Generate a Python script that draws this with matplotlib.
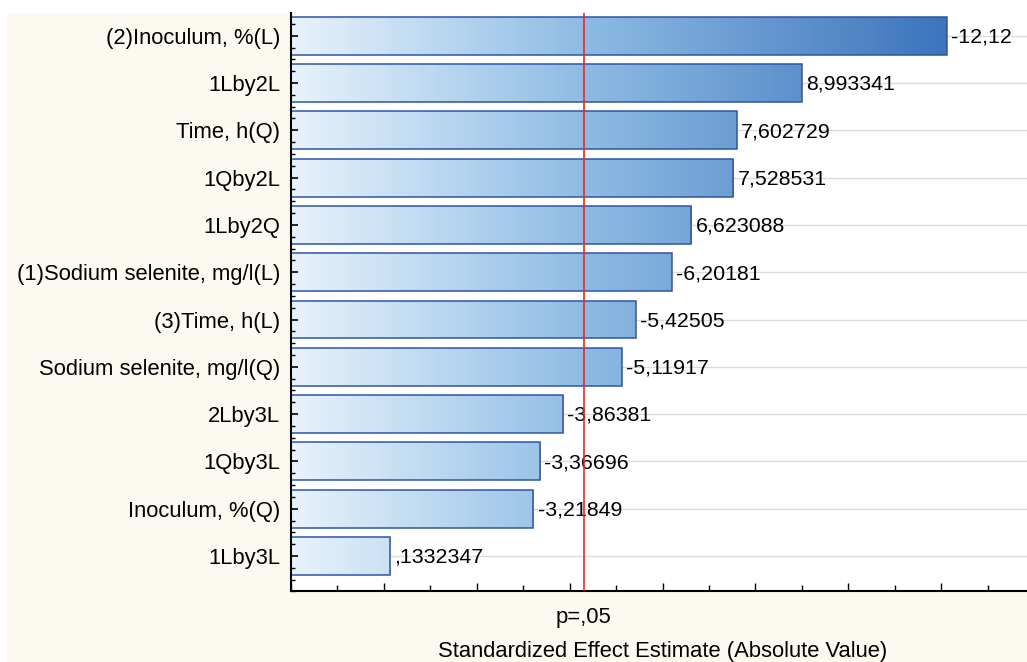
import numpy as np
import matplotlib
matplotlib.use("Agg")
import matplotlib.pyplot as plt
from matplotlib.colors import LinearSegmentedColormap
from matplotlib.patches import Rectangle
from matplotlib.ticker import MultipleLocator

# effects, top to bottom (signed standardized estimates)
effects = ["(2)Inoculum, %(L)", "1Lby2L", "Time, h(Q)", "1Qby2L", "1Lby2Q",
           "(1)Sodium selenite, mg/l(L)", "(3)Time, h(L)", "Sodium selenite, mg/l(Q)",
           "2Lby3L", "1Qby3L", "Inoculum, %(Q)", "1Lby3L"]
estimates = [-12.12, 8.993341, 7.602729, 7.528531, 6.623088, -6.20181,
             -5.42505, -5.11917, -3.86381, -3.36696, -3.21849, 0.1332347]
t_crit = 4.302653   # p=.05 cut-off
x_min, x_max = -2, 14

plt.rcParams['font.family'] = ['Liberation Sans', 'DejaVu Sans']

def fmt(v):
    s = f"{v:.7g}"
    s = s.replace("0.", ".", 1) if s.startswith(("0.", "-0.")) else s
    return s.replace(".", ",")

fig = plt.figure(figsize=(10.27, 6.62), dpi=100, facecolor="white")
# cream page behind the plot
fig.patches.append(Rectangle((7 / 1027, 0), 1, 1 - 13 / 662, transform=fig.transFigure,
                             facecolor="#fcf9f1", edgecolor="none", zorder=-10))

ax = fig.add_axes([291 / 1027, 0.1065, 743 / 1027, 0.8739])
ax.set_facecolor("white")
ax.set_axisbelow(False)

n = len(effects)
ypos = np.arange(n)[::-1]
absval = np.abs(estimates)

cmap = LinearSegmentedColormap.from_list(
    "bars", [(0.0, "#e8f3fc"), (0.45, "#8dbbe3"), (1.0, "#3d74bc")])
grad = np.linspace(0, 1, 256).reshape(1, -1)

for y, v in zip(ypos, absval):
    ax.axhline(y, color="#dcdcdc", lw=1, zorder=0.5)
    bar = ax.barh(y, v - x_min, left=x_min, height=0.8, facecolor="none",
                  edgecolor="#2d55a6", lw=1.1, zorder=2)[0]
    im = ax.imshow(grad, cmap=cmap, aspect="auto", extent=(x_min, absval.max(), y - 0.4, y + 0.4),
                   zorder=1.8, interpolation="bilinear")
    im.set_clip_path(bar)

for y, v, e in zip(ypos, absval, estimates):
    ax.annotate(fmt(e), (v, y), xytext=(3, -1), textcoords="offset points",
                ha="left", va="center", fontsize=15.4, zorder=4)

ax.axvline(t_crit, color="#f02525", lw=1.2, zorder=5)
ax.text(t_crit, -0.027, "p=,05", transform=ax.get_xaxis_transform(),
        ha="center", va="top", fontsize=15.8)

ax.set_xlim(x_min, x_max)
ax.set_ylim(-0.75, n - 1 + 0.48)

ax.set_yticks(ypos)
ax.set_yticklabels(effects, fontsize=15.8)
ax.yaxis.set_minor_locator(MultipleLocator(0.25))
ax.xaxis.set_major_locator(MultipleLocator(2))
ax.xaxis.set_minor_locator(MultipleLocator(1))
ax.set_xticklabels([])
ax.tick_params(axis="y", which="major", direction="in", length=5, width=1.2, pad=8)
ax.tick_params(axis="y", which="minor", direction="in", length=3, width=1)
ax.tick_params(axis="x", which="major", direction="in", length=6, width=1)
ax.tick_params(axis="x", which="minor", direction="in", length=4, width=1)

ax.set_xlabel("Standardized Effect Estimate (Absolute Value)", fontsize=15.8, va="baseline")
ax.xaxis.set_label_coords(0.5, -0.1125)

for side in ("top", "right"):
    ax.spines[side].set_visible(False)
for side in ("left", "bottom"):
    ax.spines[side].set_linewidth(1.5)
    ax.spines[side].set_color("black")

fig.savefig("out.png", dpi=100, facecolor=fig.get_facecolor())
